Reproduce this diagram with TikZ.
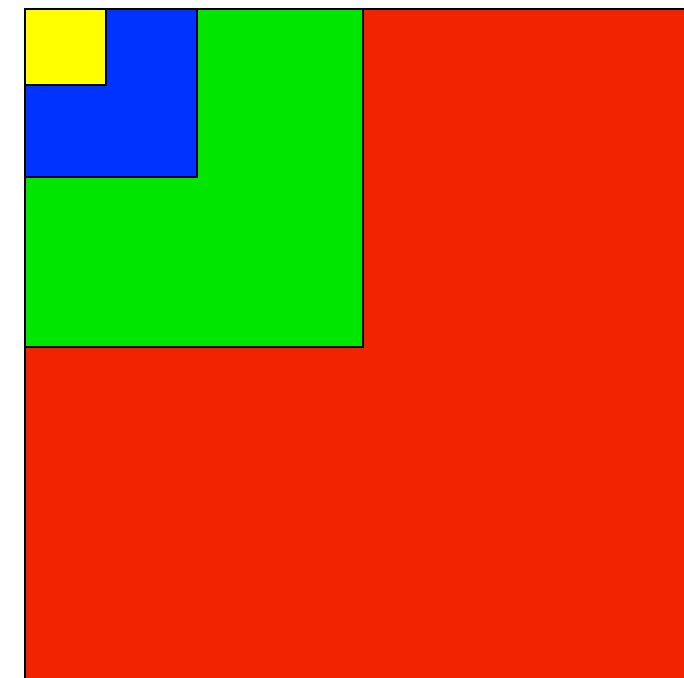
\documentclass[tikz,border=0pt]{standalone}
\definecolor{cred}{RGB}{242,35,0}
\definecolor{cgreen}{RGB}{0,230,0}
\definecolor{cblue}{RGB}{0,51,255}
\definecolor{cyellow}{RGB}{255,255,0}
\tikzset{sq/.style={draw=black, line width=2.5pt, anchor=north west, inner sep=0pt, outer sep=0pt}}
\begin{document}
\begin{tikzpicture}[x=1pt,y=1pt]
\useasboundingbox (0,0) rectangle (684,677);
\clip (0,0) rectangle (684,677);
\fill[white] (0,0) rectangle (684,677);
\node[sq, fill=cred, minimum width=676pt, minimum height=676pt] (red) at (25,668) {};
\node[sq, fill=cgreen, minimum width=338pt, minimum height=338pt] (green) at (25,668) {};
\node[sq, fill=cblue, minimum width=172pt, minimum height=168pt] (blue) at (25,668) {};
\node[sq, fill=cyellow, minimum width=81pt, minimum height=76pt] (yellow) at (25,668) {};
\end{tikzpicture}
\end{document}
